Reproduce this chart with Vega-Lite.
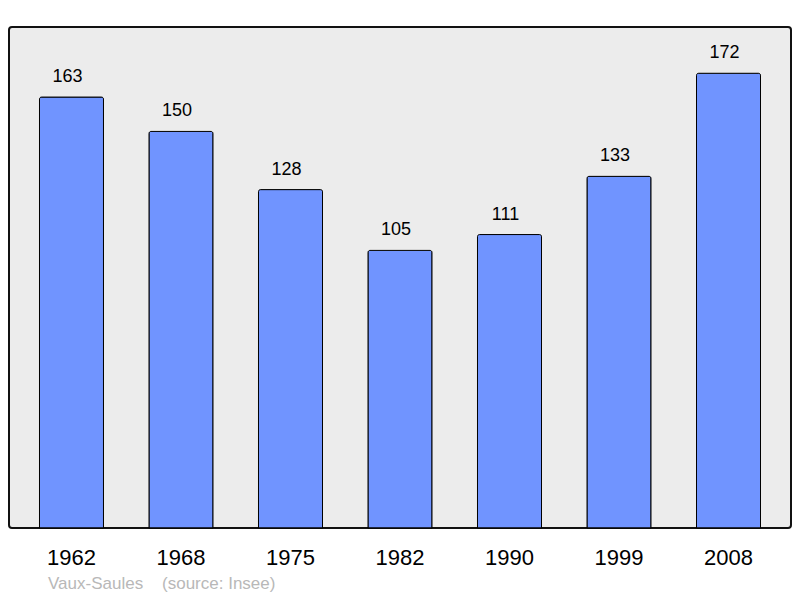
{
  "$schema": "https://vega.github.io/schema/vega-lite/v6.json",
  "width": 782,
  "height": 501,
  "autosize": "none",
  "padding": {"left": 9, "top": 27, "right": 9, "bottom": 70},
  "background": "white",
  "data": {"values": [
    {"year": "1962", "pop": 163},
    {"year": "1968", "pop": 150},
    {"year": "1975", "pop": 128},
    {"year": "1982", "pop": 105},
    {"year": "1990", "pop": 111},
    {"year": "1999", "pop": 133},
    {"year": "2008", "pop": 172}
  ]},
  "title": {
    "text": "Vaux-Saules\u00a0\u00a0\u00a0\u00a0(source: Insee)",
    "orient": "bottom",
    "anchor": "start",
    "dx": 39,
    "offset": 8,
    "font": "Liberation Sans",
    "fontSize": 17,
    "fontWeight": "normal",
    "color": "#b8b8b8"
  },
  "config": {
    "view": {"fill": "#ececec", "stroke": "#111111", "strokeWidth": 2, "cornerRadius": 3},
    "font": "Liberation Sans"
  },
  "encoding": {
    "x": {
      "field": "year", "type": "nominal", "sort": null,
      "scale": {"paddingInner": 0.4155, "paddingOuter": 0.2785},
      "axis": {"title": null, "ticks": false, "tickSize": 0, "domain": false, "labelAngle": 0,
               "labelFont": "Liberation Sans", "labelFontSize": 22, "labelColor": "#000000",
               "labelBaseline": "alphabetic", "labelPadding": 36}
    },
    "y": {
      "field": "pop", "type": "quantitative",
      "scale": {"domain": [0, 189.5], "nice": false, "zero": true},
      "axis": null
    }
  },
  "layer": [
    {"mark": {"type": "bar", "fill": "#7094ff", "stroke": "#000000", "strokeWidth": 1, "cornerRadiusTopLeft": 2, "cornerRadiusTopRight": 2}},
    {"mark": {"type": "text", "baseline": "alphabetic", "dy": -15, "dx": -4, "fontSize": 18, "font": "Liberation Sans", "color": "#000000"},
     "encoding": {"text": {"field": "pop", "type": "quantitative"}}}
  ]
}
